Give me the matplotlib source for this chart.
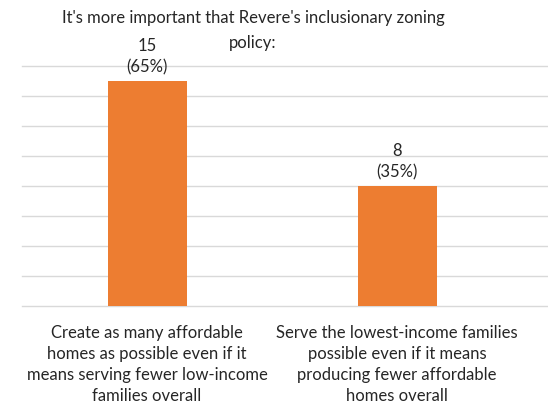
import matplotlib.pyplot as plt

categories = [
    "Create as many affordable\nhomes as possible even if it\nmeans serving fewer low-income\nfamilies overall",
    "Serve the lowest-income families\npossible even if it means\nproducing fewer affordable\nhomes overall",
]
counts = [15, 8]
percents = [65, 35]
title_lines = ["It's more important that Revere's inclusionary zoning", "policy:"]

plt.rcParams['font.family'] = ['Lato', 'DejaVu Sans']

fig = plt.figure(figsize=(5.48, 4.03), dpi=100)
ax = fig.add_axes([22 / 548, 1 - 306 / 403, 526 / 548, 240 / 403])

x = range(len(counts))
bars = ax.bar(x, counts, width=0.316, color='#ED7D31', zorder=3)

for b, n, p in zip(bars, counts, percents):
    ax.text(b.get_x() + b.get_width() / 2, n + 0.35, f"{n}\n({p}%)",
            ha='center', va='bottom', fontsize=12, color='#262626',
            linespacing=1.4)

ax.set_xlim(-0.5, 1.604)
ax.set_ylim(0, 16)
ax.set_yticks(range(0, 17, 2))
ax.yaxis.grid(True, color='#d9d9d9', linewidth=1, zorder=0)
for gl in ax.get_ygridlines():
    gl.set_clip_on(False)
ax.tick_params(left=False, labelleft=False, bottom=False)
for s in ax.spines.values():
    s.set_visible(False)

ax.set_xticks(list(x))
ax.set_xticklabels(categories, fontsize=12, color='#262626', linespacing=1.4)
ax.tick_params(axis='x', pad=10)

# two-line title, each line placed on its own
for i, line in enumerate(title_lines):
    fig.text(253 / 548, 1 - (18 + 25 * i) / 403, line,
             ha='center', va='center', fontsize=12, color='#262626')

fig.savefig('out.png', dpi=100)
